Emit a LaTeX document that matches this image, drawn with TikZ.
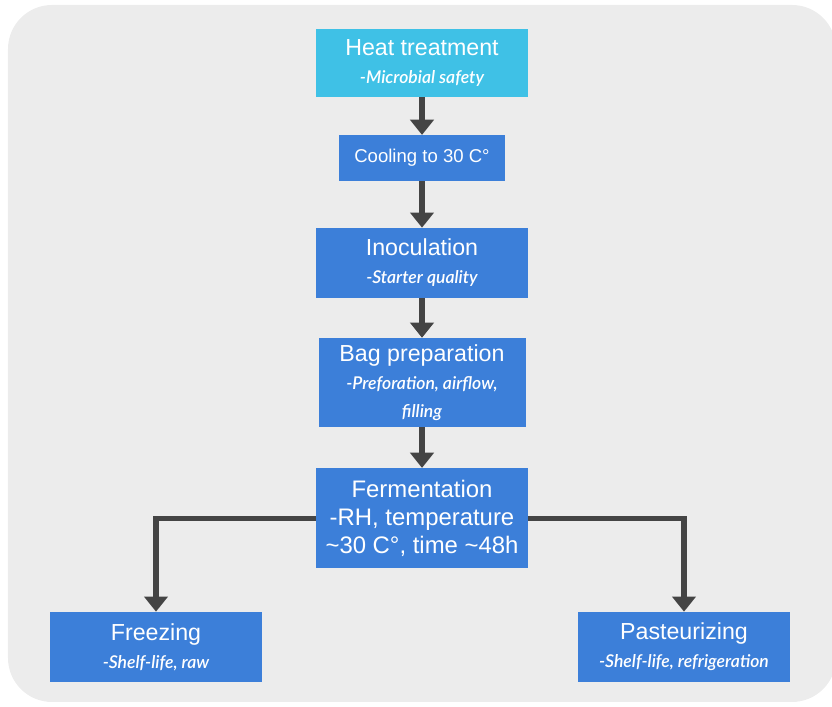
\documentclass[tikz,border=0pt]{standalone}
\usepackage{fontspec}
\setmainfont{Liberation Sans}
\newfontfamily\latofont{Lato}[ItalicFont={Lato Semibold Italic}]
\usetikzlibrary{arrows.meta}
\definecolor{boxblue}{RGB}{60,127,217}
\definecolor{boxcyan}{RGB}{63,193,230}
\definecolor{arrowgray}{RGB}{68,68,68}
\definecolor{panelgray}{RGB}{236,236,236}
\newcommand{\stepnote}[1]{{\latofont\itshape\fontsize{12.5}{15}\selectfont #1}}

\begin{document}
\begin{tikzpicture}[
    stepbox/.style={fill=boxblue, text=white, inner sep=0pt, align=center,
        minimum width=5.3cm, minimum height=1.75cm, font=\fontsize{16.5}{20}\selectfont},
    flow/.style={draw=arrowgray, line width=3.6pt, -{Triangle[length=0.38cm, width=0.58cm]}}
]
        \useasboundingbox (0, 0) rectangle (20.8, 17.675);
        \fill[panelgray, rounded corners=1.1cm] (0.2, 0.125) rectangle (20.9, 17.55);

        \node[stepbox, fill=boxcyan, minimum height=1.7cm] (heat) at (10.55, 16.1) {Heat treatment\\\stepnote{-Microbial safety}};
        \node[stepbox, minimum width=4.15cm, minimum height=1.15cm, font=\fontsize{13.2}{16}\selectfont] (cool) at (10.55, 13.72) {Cooling to 30 C°};
        \node[stepbox] (inoc) at (10.55, 11.1) {Inoculation\\\stepnote{-Starter quality}};
        \node[stepbox, minimum width=5.175cm, minimum height=2.225cm] (bag) at (10.55, 8.11) {Bag preparation\\\stepnote{-Preforation, airflow,}\\\stepnote{filling}};
        \node[stepbox, minimum height=2.5cm, font=\fontsize{17}{20}\selectfont] (ferm) at (10.55, 4.72) {Fermentation\\-RH, temperature\\\textasciitilde30 C°, time \textasciitilde48h};
        \node[stepbox] (freez) at (3.9, 1.5) {Freezing\\\stepnote{-Shelf-life, raw}};
        \node[stepbox] (past) at (17.1, 1.5) {Pasteurizing\\\stepnote{-Shelf-life, refrigeration}};

        \draw[flow] (heat) -- (cool);
        \draw[flow] (cool) -- (inoc);
        \draw[flow] (inoc) -- (bag);
        \draw[flow] (bag) -- (ferm);
        \draw[flow] (ferm.west) -| (freez.north);
        \draw[flow] (ferm.east) -| (past.north);
    \end{tikzpicture}
\end{document}
